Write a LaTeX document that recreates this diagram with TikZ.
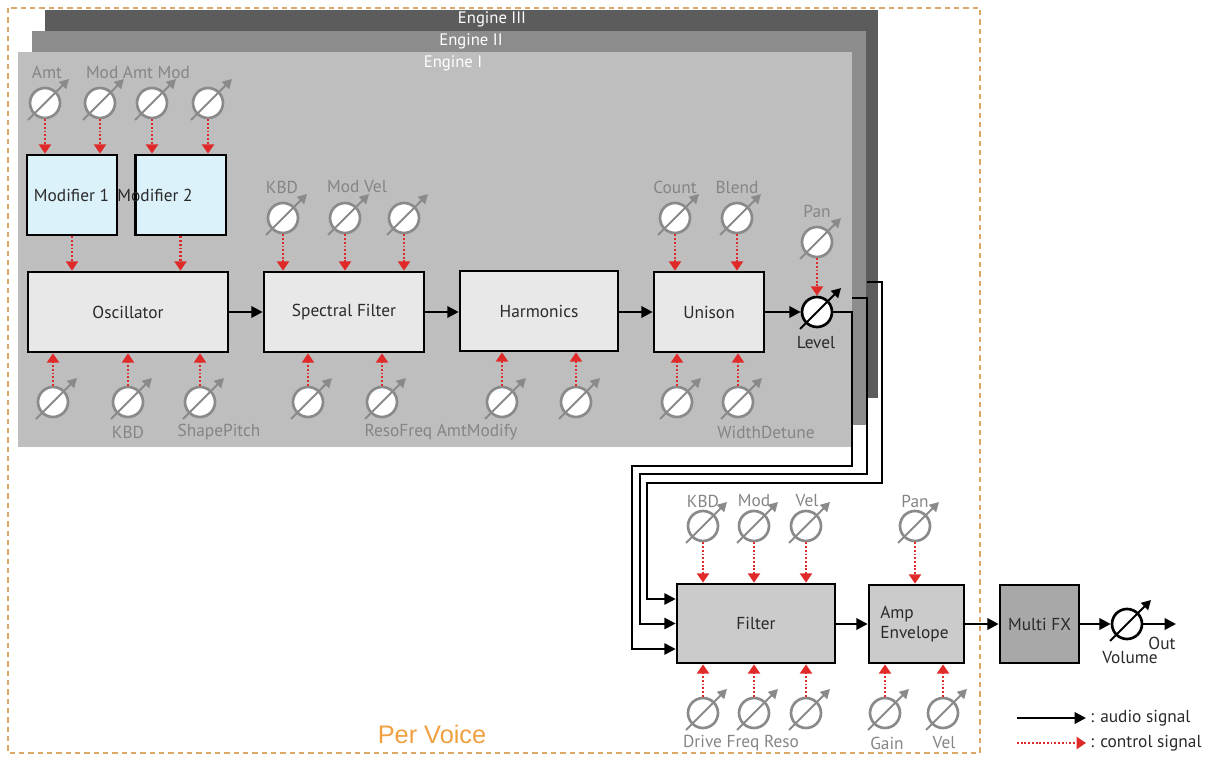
\documentclass[tikz,border=0pt]{standalone}
\usepackage{fontspec}
\setmainfont{PT Sans}
\newfontfamily\pvfont{Liberation Sans}
\usetikzlibrary{arrows.meta,calc}
\definecolor{engthree}{HTML}{5C5C5C}
\definecolor{engtwo}{HTML}{8C8C8C}
\definecolor{engone}{HTML}{BEBEBE}
\definecolor{knobgray}{HTML}{8A8A8A}
\definecolor{lblgray}{HTML}{858585}
\definecolor{ctrlred}{HTML}{E02A2A}
\definecolor{boxfill}{HTML}{E8E8E8}
\definecolor{modfill}{HTML}{DCF2FB}
\definecolor{filtfill}{HTML}{CBCBCB}
\definecolor{fxfill}{HTML}{A8A8A8}
\definecolor{bordercol}{HTML}{DCA868}
\definecolor{pervoice}{HTML}{F0A040}
\definecolor{txtdark}{HTML}{2A2A2A}
\newcommand\knob[4][knobgray]{%
  \node[knobc=#1] (#2) at (#3,#4) {};
  \draw[#1,line width=1.5pt,-{Triangle[length=7pt,width=7.5pt]}] ($(#2)+(-17,17)$) -- ($(#2)+(24,-24)$);
}
\begin{document}
\begin{tikzpicture}[x=0.75pt,y=-0.75pt,
  box/.style={draw=black,line width=2pt,fill=boxfill,inner sep=0pt,text=txtdark,font=\fontsize{13}{15.5}\selectfont},
  boxtxt/.style={inner sep=0pt,text=txtdark,font=\fontsize{13}{15.5}\selectfont},
  knobc/.style={circle,draw=#1,line width=2pt,fill=white,minimum size=22.5pt,inner sep=0pt},
  lab/.style={inner sep=0pt,text=lblgray,font=\fontsize{13}{15.5}\selectfont},
  englab/.style={inner sep=0pt,text=white,font=\fontsize{12.5}{15}\selectfont},
  audio/.style={draw=black,line width=1.9pt,-{Triangle[length=8.5pt,width=8.5pt]}},
  wire/.style={draw=black,line width=1.5pt,-{Triangle[length=8.5pt,width=8.5pt]}},
  ctrl/.style={draw=ctrlred,line width=1.8pt,dash pattern=on 1.4pt off 1.4pt,-{Triangle[length=7pt,width=9pt,fill=ctrlred]}}]
\useasboundingbox (0,0) rectangle (1209,759);
% per-voice border
\draw[bordercol,line width=1.5pt,dash pattern=on 4pt off 3pt] (8,8) rectangle (980,753);
\node[inner sep=0pt,text=pervoice,font=\pvfont\fontsize{19}{22}\selectfont] (pv) at (432,734) {Per Voice};
% engine panels
\fill[engthree] (45,10) rectangle (878,398);
\fill[engtwo] (32,31) rectangle (866,425);
\fill[engone] (18,52) rectangle (852,447);
\node[englab] (e3) at (492,19) {Engine III};
\node[englab] (e2) at (471,41) {Engine II};
\node[englab] (e1) at (453,63) {Engine I};
% modifiers
\knob{ka}{45}{103}
\knob{kb}{100}{103}
\knob{kc}{152}{103}
\knob{kd}{208}{103}
\node[lab] (lamt) at (47,72) {Amt};
\node[lab] (lmam) at (138,72) {Mod Amt Mod};
\node[box,fill=modfill,minimum width=67.5pt,minimum height=60pt] (mod1) at (72,195) {};
\node[box,fill=modfill,minimum width=68pt,minimum height=60pt] (mod2) at (180.5,195) {};
\node[boxtxt] (mod1t) at (71.5,195) {Modifier 1};
\node[boxtxt] (mod2t) at (155,195) {Modifier 2};
\draw[ctrl] (ka.south) -- (ka.south |- mod1.north);
\draw[ctrl] (kb.south) -- (kb.south |- mod1.north);
\draw[ctrl] (kc.south) -- (kc.south |- mod2.north);
\draw[ctrl] (kd.south) -- (kd.south |- mod2.north);
% main chain
\node[box,minimum width=150pt,minimum height=60pt] (osc) at (128,312) {Oscillator};
\node[box,minimum width=120pt,minimum height=60pt] (sf) at (344,312) {Spectral Filter};
\node[box,minimum width=118.5pt,minimum height=60pt] (harm) at (539,311) {Harmonics};
\node[box,minimum width=82.5pt,minimum height=60pt] (uni) at (709,312) {Unison};
\draw[ctrl] (mod1.south) -- (mod1.south |- osc.north);
\draw[ctrl] (mod2.south) -- (mod2.south |- osc.north);
% oscillator bottom
\knob{ko1}{53}{402}
\knob{ko2}{128}{402}
\knob{ko3}{200}{402}
\node[lab] (lkbd1) at (128,432) {KBD};
\node[lab] (lsp) at (219,432) {ShapePitch};
\draw[ctrl] (ko1.north) -- (ko1.north |- osc.south);
\draw[ctrl] (ko2.north) -- (ko2.north |- osc.south);
\draw[ctrl] (ko3.north) -- (ko3.north |- osc.south);
% spectral filter
\knob{ks1}{283}{218}
\knob{ks2}{345}{218}
\knob{ks3}{404}{218}
\node[lab] (lkbd2) at (282,187) {KBD};
\node[lab] (lmv) at (357,187) {Mod Vel};
\draw[ctrl] (ks1.south) -- (ks1.south |- sf.north);
\draw[ctrl] (ks2.south) -- (ks2.south |- sf.north);
\draw[ctrl] (ks3.south) -- (ks3.south |- sf.north);
\knob{ks4}{308}{402}
\knob{ks5}{382}{402}
\draw[ctrl] (ks4.north) -- (ks4.north |- sf.south);
\draw[ctrl] (ks5.north) -- (ks5.north |- sf.south);
\node[lab] (lrf) at (441,432) {ResoFreq AmtModify};
% harmonics
\knob{kh1}{502}{402}
\knob{kh2}{576}{402}
\draw[ctrl] (kh1.north) -- (kh1.north |- harm.south);
\draw[ctrl] (kh2.north) -- (kh2.north |- harm.south);
% unison
\knob{ku1}{675}{218}
\knob{ku2}{737}{218}
\node[lab] (lcount) at (675,187) {Count};
\node[lab] (lblend) at (737,187) {Blend};
\draw[ctrl] (ku1.south) -- (ku1.south |- uni.north);
\draw[ctrl] (ku2.south) -- (ku2.south |- uni.north);
\knob{ku3}{677}{402}
\knob{ku4}{738}{402}
\draw[ctrl] (ku3.north) -- (ku3.north |- uni.south);
\draw[ctrl] (ku4.north) -- (ku4.north |- uni.south);
\node[lab] (lwd) at (766,432) {WidthDetune};
% level and pan
\knob{kpan}{817}{242}
\node[lab] (lpan) at (817,211) {Pan};
\knob[black]{level}{817}{312}
\node[boxtxt] (llevel) at (816,343) {Level};
\draw[ctrl] (kpan.south) -- (level.north);
% audio chain
\draw[audio] (osc.east) -- (sf.west);
\draw[audio] (sf.east) -- (sf.east -| harm.west);
\draw[audio] (harm.east |- uni.west) -- (uni.west);
\draw[audio] (uni.east) -- (level.west);
% post section
\node[box,fill=filtfill,minimum width=118.5pt,minimum height=59.25pt] (filter) at (756,623.5) {Filter};
\node[box,fill=filtfill,minimum width=71.25pt,minimum height=58.5pt] (amp) at (916.5,624) {};
\node[boxtxt,align=left,anchor=west] (ampt) at (880,624) {Amp\\Envelope};
\node[box,fill=fxfill,minimum width=59.25pt,minimum height=58.5pt] (fx) at (1039.5,624) {Multi FX};
% engine wires
\coordinate (e2out) at (852,298);
\coordinate (e3out) at (867,282);
\draw[wire] (level.east) -- (852,312) -- (852,466) -- (632,466) -- (632,649) -- (filter.west |- 0,649);
\draw[wire] (e2out) -- (867,298) -- (867,474) -- (639.5,474) -- (639.5,623.5) -- (filter.west);
\draw[wire] (e3out) -- (882,282) -- (882,483) -- (647,483) -- (647,599) -- (filter.west |- 0,599);
% filter knobs
\knob{kf1}{703}{526}
\knob{kf2}{754}{526}
\knob{kf3}{806}{526}
\node[lab] (lf1) at (703,501) {KBD};
\node[lab] (lf2) at (754,501) {Mod};
\node[lab] (lf3) at (807,501) {Vel};
\draw[ctrl] (kf1.south) -- (kf1.south |- filter.north);
\draw[ctrl] (kf2.south) -- (kf2.south |- filter.north);
\draw[ctrl] (kf3.south) -- (kf3.south |- filter.north);
\knob{kf4}{703}{713}
\knob{kf5}{754}{713}
\knob{kf6}{806}{713}
\draw[ctrl] (kf4.north) -- (kf4.north |- filter.south);
\draw[ctrl] (kf5.north) -- (kf5.north |- filter.south);
\draw[ctrl] (kf6.north) -- (kf6.north |- filter.south);
\node[lab] (lf4) at (741,743) {Drive Freq Reso};
% amp knobs
\knob{ka1}{915}{526}
\node[lab] (la1) at (915,501) {Pan};
\draw[ctrl] (ka1.south) -- (ka1.south |- amp.north);
\knob{ka2}{885}{713}
\knob{ka3}{943}{713}
\draw[ctrl] (ka2.north) -- (ka2.north |- amp.south);
\draw[ctrl] (ka3.north) -- (ka3.north |- amp.south);
\node[lab] (la2) at (887,743) {Gain};
\node[lab] (la3) at (944,743) {Vel};
% output
\draw[audio] (filter.east |- amp.west) -- (amp.west);
\draw[audio] (amp.east) -- (fx.west);
\knob[black]{vol}{1127}{624}
\draw[audio] (fx.east) -- (vol.west);
\coordinate (out) at (1176,624);
\draw[audio] (vol.east) -- (out);
\node[boxtxt] (lout) at (1162,643) {Out};
\node[boxtxt] (lvol) at (1130,658) {Volume};
% legend
\coordinate (lg1) at (1017,718);
\coordinate (lg2) at (1086,718);
\coordinate (lg3) at (1017,743);
\coordinate (lg4) at (1086,743);
\draw[audio] (lg1) -- (lg2);
\draw[ctrl] (lg3) -- (lg4);
\node[boxtxt,anchor=west] (lgt1) at (1090,718) {: audio signal};
\node[boxtxt,anchor=west] (lgt2) at (1090,743) {: control signal};
\end{tikzpicture}
\end{document}
